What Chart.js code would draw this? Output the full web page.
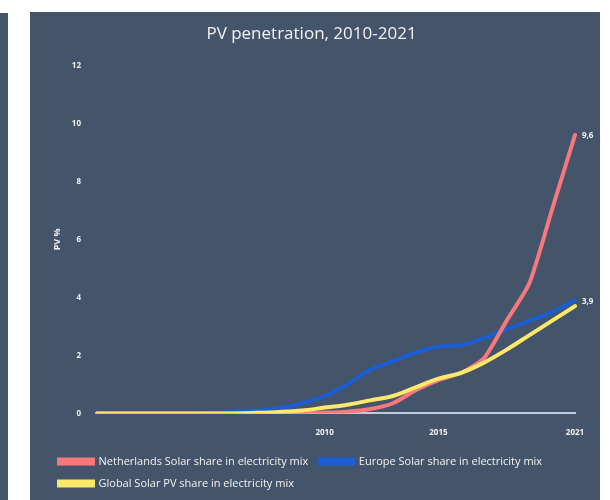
<!DOCTYPE html>
<html>
<head>
<meta charset="utf-8">
<script src="https://cdn.jsdelivr.net/npm/chart.js@4/dist/chart.umd.min.js"></script>
<style>
  html, body { margin: 0; padding: 0; background: #ffffff; width: 610px; height: 500px; overflow: hidden; }
  #leftStrip { position: absolute; left: 0; top: 13px; width: 8px; height: 487px; background: #44546A; }
  #panel { position: absolute; left: 30px; top: 12px; width: 570px; height: 488px; background: #44546A; }
  #panel canvas { display: block; }
</style>
</head>
<body>
<div id="leftStrip"></div>
<div id="panel"><canvas id="c" width="570" height="488"></canvas></div>
<script>
const years = ['2000','2001','2002','2003','2004','2005','2006','2007','2008','2009','2010','2011','2012','2013','2014','2015','2016','2017','2018','2019','2020','2021'];
const shownYearLabels = ['2010','2015','2021'];
const netherlands = [0,0,0,0,0,0,0,0,0.01,0.02,0.03,0.06,0.15,0.35,0.8,1.15,1.4,1.9,3.2,4.5,7.05,9.6];
const europe      = [0,0,0,0,0,0.02,0.05,0.1,0.18,0.35,0.6,1.0,1.5,1.8,2.1,2.3,2.35,2.6,2.9,3.2,3.5,3.9];
const globalPV    = [0,0,0,0,0,0,0,0.02,0.05,0.1,0.2,0.3,0.45,0.6,0.9,1.2,1.4,1.75,2.2,2.7,3.2,3.7];
const seriesNames = ['Netherlands Solar share in electricity mix','Europe Solar share in electricity mix','Global Solar PV share in electricity mix'];
const endLabels = ['9,6','3,9'];

const txt = '#F2F2F2';
const font = '"Open Sans", "Liberation Sans", sans-serif';

const endLabelPlugin = {
  id: 'endLabels',
  afterDatasetsDraw(chart) {
    const ctx = chart.ctx;
    ctx.save();
    ctx.fillStyle = txt;
    ctx.font = 'bold 8px ' + font;
    ctx.textAlign = 'left';
    ctx.textBaseline = 'middle';
    endLabels.forEach((lab, i) => {
      const meta = chart.getDatasetMeta(i);
      const pt = meta.data[meta.data.length - 1];
      ctx.fillText(lab, pt.x + 7, pt.y + 1);
    });
    ctx.restore();
  }
};

new Chart(document.getElementById('c'), {
  type: 'line',
  data: {
    labels: years,
    datasets: [
      { label: seriesNames[0], data: netherlands, borderColor: '#F8787C', backgroundColor: '#F8787C', borderWidth: 4, order: 1, tension: 0.2, cubicInterpolationMode: 'default' },
      { label: seriesNames[1], data: europe, borderColor: '#1B5ED4', backgroundColor: '#1B5ED4', borderWidth: 4, order: 2 },
      { label: seriesNames[2], data: globalPV, borderColor: '#FCE96C', backgroundColor: '#FCE96C', borderWidth: 4, order: 0 }
    ]
  },
  options: {
    responsive: false,
    animation: false,
    events: [],
    layout: { padding: { left: 18, right: 25, top: 0, bottom: 1 } },
    elements: { point: { radius: 0 }, line: { tension: 0.35, cubicInterpolationMode: 'monotone', borderCapStyle: 'round' } },
    plugins: {
      title: {
        display: true,
        text: 'PV penetration, 2010-2021',
        color: txt,
        font: { family: font, size: 17, weight: 'normal' },
        padding: { top: 12, bottom: 21 }
      },
      legend: {
        position: 'bottom',
        align: 'start',
        labels: {
          color: txt,
          font: { family: font, size: 11 },
          boxWidth: 34,
          boxHeight: 4,
          padding: 11,
          sort: (a, b) => a.datasetIndex - b.datasetIndex
        }
      },
      tooltip: { enabled: false }
    },
    scales: {
      x: {
        offset: false,
        grid: { display: false },
        border: { display: true, color: '#C4CAD6', width: 2 },
        ticks: {
          autoSkip: false,
          maxRotation: 0,
          color: txt,
          font: { family: font, size: 8, weight: 'bold' },
          padding: 7,
          callback: function(v) { const l = this.getLabelForValue(v); return shownYearLabels.includes(l) ? l : ''; }
        }
      },
      y: {
        min: 0, max: 12,
        grid: { display: false },
        border: { display: false },
        ticks: { stepSize: 2, color: txt, font: { family: font, size: 8, weight: 'bold' }, padding: 8 },
        title: { display: true, text: 'PV %', color: txt, font: { family: font, size: 9, weight: 'bold' }, padding: { top: 4, bottom: 0 } },
        afterFit: (s) => { s.width = 49; }
      }
    }
  },
  plugins: [endLabelPlugin]
});
</script>
</body>
</html>
